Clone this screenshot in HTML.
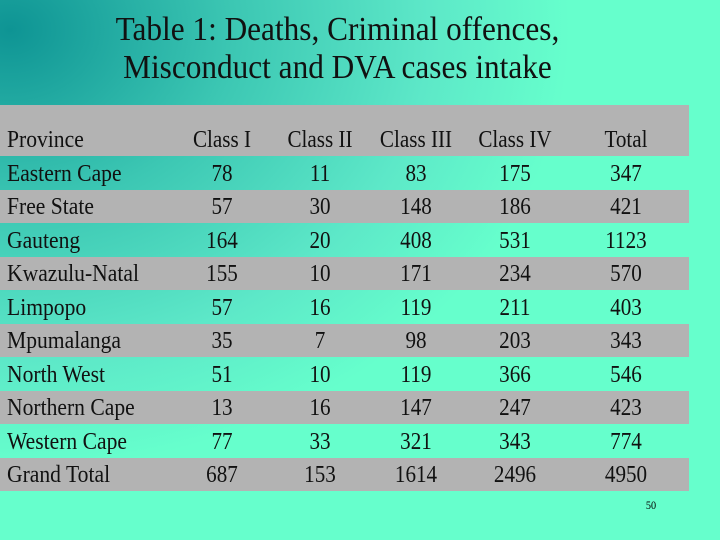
<!DOCTYPE html>
<html><head><meta charset="utf-8"><style>
body{margin:0;width:720px;height:540px;overflow:hidden;font-family:"Liberation Serif","Times New Roman",serif;
background:radial-gradient(ellipse 560px 440px at 10px 30px,#0e9494 0%,#3cc7b3 40%,#5de8c8 75%,#66ffcc 100%);position:relative}
.t{position:absolute;left:0;width:675px;text-align:center;font-size:34px;color:#111;line-height:38px;top:11px;transform:scaleX(0.92);transform-origin:337px 0}
.row{position:absolute;left:0;width:689px;height:33.5px}
.g{background:#b3b3b3}
.c{position:absolute;font-size:24px;color:#111;transform:translateX(-50%) scaleX(0.88);bottom:2px;white-space:nowrap}
.p{position:absolute;left:7px;font-size:24px;color:#111;bottom:2px;transform:scaleX(0.9);transform-origin:0 0;white-space:nowrap}
.pg{position:absolute;left:645px;top:498px;font-size:12px;transform:scaleX(0.85)}
</style></head><body>
<div class="t">Table 1: Deaths, Criminal offences,<br>Misconduct and DVA cases intake</div>
<div id="tbl"></div>
<div class="pg">50</div>
<script>
const header=["Province","Class I","Class II","Class III","Class IV","Total"];
const provinces=["Eastern Cape","Free State","Gauteng","Kwazulu-Natal","Limpopo","Mpumalanga","North West","Northern Cape","Western Cape","Grand Total"];
const classI=[78,57,164,155,57,35,51,13,77,687];
const classII=[11,30,20,10,16,7,10,16,33,153];
const classIII=[83,148,408,171,119,98,119,147,321,1614];
const classIV=[175,186,531,234,211,203,366,247,343,2496];
const totals=[347,421,1123,570,403,343,546,423,774,4950];
const cx=[222,320,416,515,626];
const tbl=document.getElementById('tbl');
function mk(top,h,gray,cells,name){
 const r=document.createElement('div');
 r.className='row'+(gray?' g':'');
 r.style.top=top+'px';r.style.height=h+'px';
 
 
 const p=document.createElement('div');p.className='p';p.textContent=cells[0];
 
 
 r.appendChild(p);
 for(let i=1;i<cells.length;i++){const c=document.createElement('div');c.className='c';c.style.left=cx[i-1]+'px';c.textContent=cells[i];
 
 
 r.appendChild(c);}
 tbl.appendChild(r);
}
mk(105,51,true,header,'header-row');
provinces.forEach((p,i)=>{
 mk(156+i*33.5,33.5,i%2==1,[p,classI[i],classII[i],classIII[i],classIV[i],totals[i]],'row-'+p.toLowerCase().replace(/\s+/g,'-'));
});
</script>
</body></html>
